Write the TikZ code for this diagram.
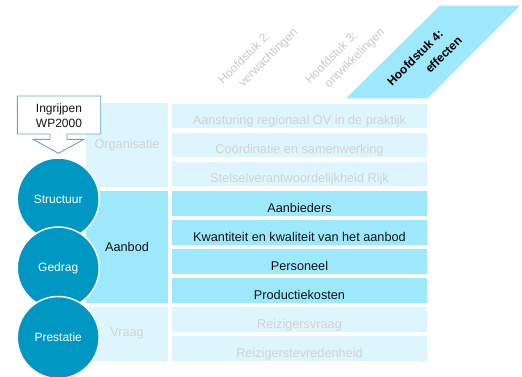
\documentclass[tikz,border=0pt]{standalone}
\usepackage{fontspec}
\setmainfont{Liberation Sans}
\usetikzlibrary{calc}
\definecolor{cdark}{RGB}{0,152,195}
\definecolor{cbright}{RGB}{158,232,252}
\definecolor{clight}{RGB}{221,246,253}
\definecolor{cgray}{RGB}{210,210,210}
\definecolor{chgray}{RGB}{200,200,200}
\definecolor{cborder}{RGB}{110,160,215}
\definecolor{ctext}{RGB}{20,20,20}
\tikzset{
  rowbox/.style={rectangle, inner sep=0pt, minimum width=255pt, minimum height=24.8pt},
  litebox/.style={rowbox, fill=clight},
  brightbox/.style={rowbox, fill=cbright},
  rowtxt/.style={inner sep=0pt, anchor=base, font=\fontsize{12.7}{14}\selectfont},
  catbox/.style={rectangle, inner sep=0pt, minimum width=82pt},
  cattxt/.style={inner sep=0pt, font=\fontsize{12.7}{14}\selectfont},
  circ/.style={circle, inner sep=0pt, minimum size=82pt, fill=cdark, draw=white, line width=1.5pt,
    text=white, font=\fontsize{12}{14}\selectfont},
  hdr/.style={inner sep=0pt, rotate=45, font=\fontsize{12}{13}\selectfont},
  hdrb/.style={hdr, text=black, font=\fontsize{12}{13}\selectfont\bfseries},
}
\begin{document}
\begin{tikzpicture}[x=1pt,y=-1pt]
\useasboundingbox (0,0) rectangle (522,376);
\clip (0,0) rectangle (522,376);
% header parallelogram
\fill[cbright] (440,5.5) coordinate (p1) -- (520,5.5) coordinate (p2) -- (427.5,98.3) coordinate (p3) -- (346,98.3) coordinate (p4) -- cycle;
% headers
\node[hdr, text=chgray] (h2a) at (244,57.5) {Hoofdstuk 2:};
\node[hdr, text=chgray] (h2b) at (268.5,58) {verwachtingen};
\node[hdr, text=chgray] (h3a) at (330.8,57.5) {Hoofdstuk 3:};
\node[hdr, text=chgray] (h3b) at (355,58.5) {ontwikkelingen};
\node[hdrb] (h4a) at (415,57.5) {Hoofdstuk 4:};
\node[hdrb] (h4b) at (443.5,54.5) {effecten};
% category boxes
\node[catbox, fill=clight, minimum height=83.4pt] (org) at (127,145) {};
\node[cattxt, text=cgray] (orgt) at (org.center) {Organisatie};
\node[catbox, fill=cbright, minimum height=112pt] (aan) at (127,246.7) {};
\node[cattxt, text=ctext] (aant) at (aan.center) {Aanbod};
\node[catbox, fill=clight, minimum height=53.7pt] (vra) at (127,333.8) {};
\node[cattxt, text=cgray] (vrat) at (vra.center) {Vraag};
% rows
\node[litebox] (r1) at (299.5,115.9) {};
\node[rowtxt, text=cgray] (t1) at ([yshift=3.6pt]r1.south) {Aansturing regionaal OV in de praktijk};
\node[litebox] (r2) at (299.5,144.9) {};
\node[rowtxt, text=cgray] (t2) at ([yshift=3.6pt]r2.south) {Coördinatie en samenwerking};
\node[litebox] (r3) at (299.5,173.9) {};
\node[rowtxt, text=cgray] (t3) at ([yshift=3.6pt]r3.south) {Stelselverantwoordelijkheid Rijk};
\node[brightbox] (r4) at (299.5,203.1) {};
\node[rowtxt, text=ctext] (t4) at ([yshift=3.6pt]r4.south) {Aanbieders};
\node[brightbox] (r5) at (299.5,232.2) {};
\node[rowtxt, text=ctext] (t5) at ([yshift=3.6pt]r5.south) {Kwantiteit en kwaliteit van het aanbod};
\node[brightbox] (r6) at (299.5,261.3) {};
\node[rowtxt, text=ctext] (t6) at ([yshift=3.6pt]r6.south) {Personeel};
\node[brightbox] (r7) at (299.5,290.4) {};
\node[rowtxt, text=ctext] (t7) at ([yshift=3.6pt]r7.south) {Productiekosten};
\node[litebox] (r8) at (299.5,319.4) {};
\node[rowtxt, text=cgray] (t8) at ([yshift=3.6pt]r8.south) {Reizigersvraag};
\node[litebox] (r9) at (299.5,348.4) {};
\node[rowtxt, text=cgray] (t9) at ([yshift=3.6pt]r9.south) {Reizigerstevredenheid};
% callout
\draw[cborder, fill=white, line width=0.9pt, line join=miter]
  (17.3,96) coordinate (c1) -- (100.7,96) coordinate (c2) -- (100.7,134) coordinate (c3)
  -- (67,134) -- (67,139.3) -- (84,139.3) -- (58.5,153.3) coordinate (ctip)
  -- (33,139.3) -- (50,139.3) -- (50,134) -- (17.3,134) -- cycle;
\node[align=center, inner sep=0pt, font=\fontsize{12}{14.5}\selectfont, text=ctext] (ing) at (59,115.5) {Ingrijpen\\WP2000};
% circles
\node[circ] (s) at (58.2,199) {Structuur};
\node[circ] (g) at (58.2,268) {Gedrag};
\node[circ] (pr) at (58.2,337.5) {Prestatie};
\end{tikzpicture}
\end{document}
